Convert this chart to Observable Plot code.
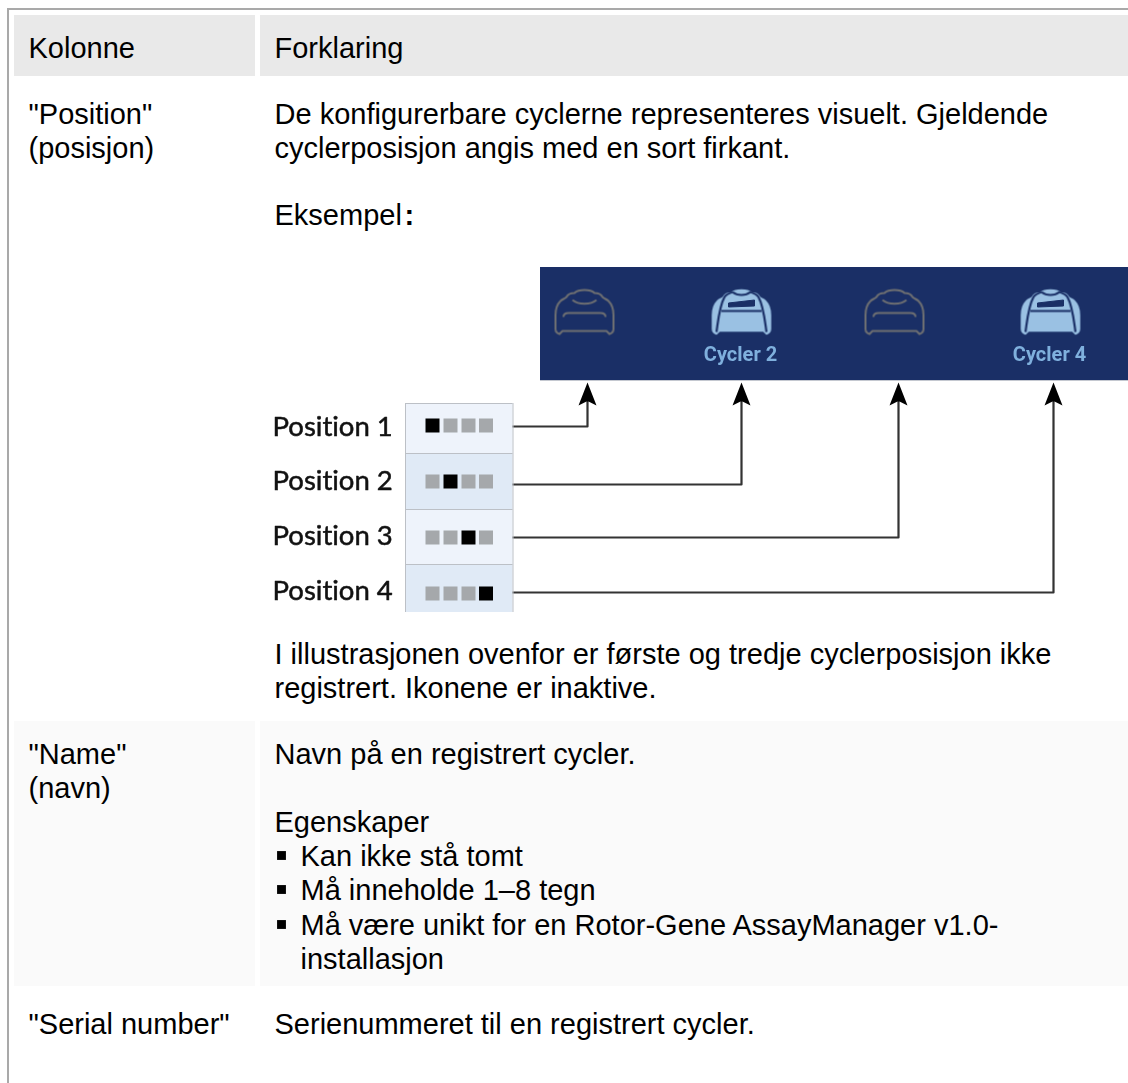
<!DOCTYPE html>
<html><head><meta charset="utf-8">
<style>html,body{margin:0;padding:0;background:#fff}svg{display:block}</style>
<script src="https://cdn.jsdelivr.net/npm/d3@7"></script>
<script src="https://cdn.jsdelivr.net/npm/@observablehq/plot@0.6"></script>
</head><body><div id="chart"></div>
<script>
// ---- content ----
const headerLabels = ["Kolonne", "Forklaring"];
const columnLines = ['"Position"', "(posisjon)", '"Name"', "(navn)", '"Serial number"'];
const bodyLines = [
  "De konfigurerbare cyclerne representeres visuelt. Gjeldende",
  "cyclerposisjon angis med en sort firkant.",
  "Eksempel",
  "I illustrasjonen ovenfor er første og tredje cyclerposisjon ikke",
  "registrert. Ikonene er inaktive.",
  "Navn på en registrert cycler.",
  "Egenskaper",
  "Serienummeret til en registrert cycler."
];
const bulletLines = [
  "Kan ikke stå tomt",
  "Må inneholde 1–8 tegn",
  "Må være unikt for en Rotor-Gene AssayManager v1.0-",
  "installasjon"
];
const positionLabels = ["Position 1", "Position 2", "Position 3", "Position 4"];
const cyclerNames = ["", "Cycler 2", "", "Cycler 4"];
const registered = [false, true, false, true];
const slots = [0, 1, 2, 3];

// ---- layout of the page (pixels) ----
const W = 1128, H = 1083, FS = 29, LEFT = 28, RIGHT = 274, BUL = 300;
const base = fs => 0.3 * fs;
const headerBase = 57;
const EXAMPLE_BASE = 224;
const columnBase = [123, 157, 763, 797, 1033];
const bodyBase = [123, 157, EXAMPLE_BASE, 663, 697, 763, 831, 1033];
const bulletBase = [865, 899, 934, 968];
const rowTop = [403, 453, 509, 564], rowBottom = [453, 509, 564, 612];
const rowFill = ["#eef3fb", "#e0eaf6"];
const squareMid = [425, 481, 537, 593];
const lineY = [426, 484, 537, 592];
const labelMid = [427, 481, 536, 591];
const arrowX = [587, 741, 898, 1053];
const iconMid = [584, 741, 894, 1050];
const slotX = [432, 450, 468, 485.5];

const bandRect = (x1, x2, y1, y2, fill) =>
  Plot.rect([0], {x1: () => x1, x2: () => x2, y1: () => y1, y2: () => y2, fill});

const textLines = (lines, x, baselines, extra = {}) => Plot.text(lines, {
  x: () => x, y: (d, i) => baselines[i] - base(FS), text: d => d,
  textAnchor: "start", fontSize: FS, fill: "#000", ...extra
});

// Icon glyphs as d3-style symbol types
const outline = c => {
  c.moveTo(-22, 19); c.lineTo(-25, 22);
  c.bezierCurveTo(-28, 21, -29, 19, -29, 17);
  c.lineTo(-29, 3);
  c.bezierCurveTo(-29, -3, -27, -8, -24, -11);
  c.bezierCurveTo(-22, -13, -20, -13, -18, -15);
  c.bezierCurveTo(-16, -19, -13, -19, -10, -19);
  c.bezierCurveTo(-6, -23, 6, -23, 10, -19);
  c.bezierCurveTo(13, -19, 16, -19, 18, -15);
  c.bezierCurveTo(20, -13, 22, -13, 24, -11);
  c.bezierCurveTo(27, -8, 29, -3, 29, 3);
  c.lineTo(29, 17);
  c.bezierCurveTo(29, 19, 28, 21, 25, 22);
  c.lineTo(22, 19);
  c.closePath();
};
const inactiveIcon = {draw(c) {
  outline(c);
  c.moveTo(-12, -12); c.bezierCurveTo(-6, -7, 6, -7, 12, -12);
  c.moveTo(-21, 5); c.bezierCurveTo(-21, 2, -19, 1, -16, 1); c.lineTo(16, 1); c.bezierCurveTo(19, 1, 21, 2, 21, 5);
}};
const activeIcon = {draw(c) { outline(c); }};
const activeDetail = {draw(c) {
  c.moveTo(-25, 20); c.bezierCurveTo(-23, 6, -22, -6, -17, -15); c.bezierCurveTo(-15, -18, -12, -19, -9, -20);
  c.moveTo(25, 20); c.bezierCurveTo(23, 6, 22, -6, 17, -15); c.bezierCurveTo(15, -18, 12, -19, 9, -20);
  c.bezierCurveTo(4, -16, -4, -16, -9, -20);
  c.moveTo(-20, -1); c.lineTo(20, -1);
}};
const activeWindow = {draw(c) {
  c.moveTo(-13, -9); c.lineTo(13, -12); c.lineTo(13, -6); c.lineTo(-13, -5); c.closePath();
}};
const arrowHead = {draw(c) {
  c.moveTo(0, 0); c.lineTo(9, 23); c.lineTo(1, 19); c.lineTo(-1, 19); c.lineTo(-9, 23); c.closePath();
}};

const blur = {imageFilter: "blur(0.6px)"};
const NAVY = "#1a2f66", SKY = "#9ac1e3";
const activeIdx = slots.filter(i => registered[i]);
const inactiveIdx = slots.filter(i => !registered[i]);

const connectorPts = slots.flatMap(i => [
  {i, x: 509, y: lineY[i]},
  {i, x: arrowX[i], y: lineY[i]},
  {i, x: arrowX[i], y: 400}
]);
const squares = slots.flatMap(r => slots.map(s => ({r, s, on: r === s})));

const plot = Plot.plot({
  width: W, height: H, margin: 0,
  x: {domain: [0, W], range: [0, W], axis: null},
  y: {domain: [0, H], range: [0, H], axis: null},
  style: {fontFamily: "'Liberation Sans', Arial, sans-serif", background: "#fff", fontVariantLigatures: "none"},
  marks: [
    // page frame
    bandRect(7, W, 8, 10, "#a9a9a9"),
    bandRect(7, 9, 8, H, "#a9a9a9"),
    // table cells
    bandRect(14, 255, 15, 76, "#e9e9e9"),
    bandRect(260, W, 15, 76, "#e9e9e9"),
    bandRect(14, 255, 721, 986, "#fafafa"),
    bandRect(260, W, 721, 986, "#fafafa"),
    // table text
    Plot.text(headerLabels, {x: (d, i) => [LEFT, RIGHT][i], y: headerBase - base(FS), text: d => d, textAnchor: "start", fontSize: FS, fill: "#000"}),
    textLines(columnLines, LEFT, columnBase),
    textLines(bodyLines, RIGHT, bodyBase),
    Plot.text([":"], {x: () => 404, y: EXAMPLE_BASE - base(FS), text: d => d, textAnchor: "start", fontSize: FS, fontWeight: "bold", fill: "#000"}),
    textLines(bulletLines, BUL, bulletBase),
    Plot.dot(bulletBase.slice(0, 3), {x: () => 281, y: d => d - 10, symbol: "square", r: 5, fill: "#000", stroke: "none"}),

    // illustration: cycler bar
    bandRect(540, W, 267, 380, NAVY),
    bandRect(540, W, 380, 381, "#c4c8d0"),
    Plot.dot(inactiveIdx, {x: i => iconMid[i], y: 311.5, symbol: inactiveIcon, fill: "none", stroke: "#6f7072", strokeWidth: 2, ...blur}),
    Plot.dot(activeIdx, {x: i => iconMid[i], y: 311.5, symbol: activeIcon, fill: SKY, stroke: SKY, strokeWidth: 1.5, ...blur}),
    Plot.dot(activeIdx, {x: i => iconMid[i], y: 311.5, symbol: activeWindow, fill: NAVY, stroke: NAVY, strokeWidth: 1, ...blur}),
    Plot.dot(activeIdx, {x: i => iconMid[i], y: 311.5, symbol: activeDetail, fill: "none", stroke: NAVY, strokeWidth: 2.2, ...blur}),
    Plot.text(cyclerNames, {x: (d, i) => iconMid[i] - 1, y: 354, text: d => d, fontSize: 20, fontWeight: "bold", fill: "#7fb0dd", fontFamily: "Roboto", ...blur}),

    // illustration: connectors and arrows
    Plot.line(connectorPts, {x: "x", y: "y", z: "i", stroke: "#333", strokeWidth: 2.2, curve: "linear", ...blur}),
    Plot.dot(slots, {x: i => arrowX[i], y: 382, symbol: arrowHead, fill: "#000", stroke: "none", ...blur}),

    // illustration: position table
    Plot.rect(slots, {x1: () => 405, x2: () => 512.5, y1: i => rowTop[i], y2: i => rowBottom[i], fill: i => rowFill[i % 2]}),
    Plot.ruleX([405, 512.5], {y1: 403, y2: 612, stroke: "#bcc0c6", strokeWidth: 1}),
    Plot.ruleY(rowTop, {x1: 405, x2: 512.5, stroke: "#bcc0c6", strokeWidth: 1.2}),
    Plot.dot(squares, {x: d => slotX[d.s], y: d => squareMid[d.r], symbol: "square", r: 7.9, stroke: "none", fill: d => d.on ? "#000" : "#a5a8ab"}),
    Plot.text(positionLabels, {x: () => 272, y: (d, i) => labelMid[i], text: d => d, textAnchor: "start", fontSize: 27.5, fill: "#111", stroke: "#111", strokeWidth: 0.5, fontFamily: "Lato", ...blur})
  ]
});
document.getElementById("chart").append(plot);
</script></body></html>
